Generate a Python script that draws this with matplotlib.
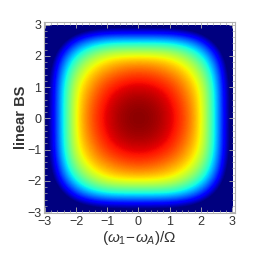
import matplotlib
matplotlib.use('Agg')
import matplotlib.pyplot as plt
import numpy as np
from matplotlib.ticker import MultipleLocator

plt.rcParams['font.family'] = ['Liberation Sans', 'DejaVu Sans']
plt.rcParams['mathtext.fontset'] = 'custom'
plt.rcParams['mathtext.rm'] = 'Liberation Sans'
plt.rcParams['mathtext.it'] = 'Liberation Sans:italic'

# sample grid (both axes), step 0.5
coords = [-3.0, -2.5, -2.0, -1.5, -1.0, -0.5, 0.0, 0.5, 1.0, 1.5, 2.0, 2.5, 3.0]

# values for one quadrant, rows/cols at 0, 0.5, ..., 3
quad_vals = [
    [1.00, 0.98, 0.93, 0.83, 0.66, 0.31, -0.12],
    [0.98, 0.966, 0.914, 0.81, 0.655, 0.31, -0.125],
    [0.93, 0.914, 0.865, 0.76, 0.63, 0.30, -0.125],
    [0.83, 0.81, 0.76, 0.69, 0.54, 0.25, -0.15],
    [0.66, 0.655, 0.63, 0.54, 0.39, 0.14, -0.20],
    [0.31, 0.31, 0.30, 0.25, 0.14, -0.075, -0.33],
    [-0.12, -0.125, -0.125, -0.15, -0.20, -0.33, -0.45],
]

xlabel = r'$(\omega_1\!-\!\omega_A)/\Omega$'
ylabel = 'linear BS'
tick_labels = ['\u22123', '\u22122', '\u22121', '0', '1', '2', '3']

q = np.array(quad_vals)
half = np.vstack([q[:0:-1], q])          # rows -3..3
grid = np.hstack([half[:, :0:-1], half])  # cols -3..3

fig = plt.figure(figsize=(2.58, 2.58), dpi=100)
ax = fig.add_axes([0.1705, 0.1744, 0.742, 0.740])

step = coords[1] - coords[0]
ext = [coords[0] - step / 2, coords[-1] + step / 2,
       coords[0] - step / 2, coords[-1] + step / 2]
im = ax.imshow(grid, cmap='jet', vmin=0, vmax=1, origin='lower',
               extent=ext, interpolation='bicubic', interpolation_stage='data',
               aspect='auto')
im.set_clip_path(plt.Rectangle((-3, -3), 6, 6, transform=ax.transData))

ax.set_xlim(-3.03, 3.11)
ax.set_ylim(-3.03, 3.08)

ax.xaxis.set_minor_locator(MultipleLocator(0.2))
ax.yaxis.set_minor_locator(MultipleLocator(0.2))
ax.tick_params(which='both', direction='in', top=True, right=True,
               color='#b0b0b0', labelsize=9, labelcolor='#333333', pad=2)
ax.tick_params(which='major', length=4, width=0.6)
ax.tick_params(which='minor', length=2, width=0.5)
ax.set_xticks(range(-3, 4))
ax.set_xticklabels(tick_labels)
ax.set_yticks(range(-3, 4))
ax.set_yticklabels(tick_labels)
for s in ax.spines.values():
    s.set_color('#b0b0b0')
    s.set_linewidth(0.8)

ax.set_xlabel(xlabel, fontsize=11, color='#333333')
ax.set_ylabel(ylabel, fontsize=10.5, fontweight='bold', color='#333333')
ax.xaxis.set_label_coords(0.5, -0.085)
ax.yaxis.set_label_coords(-0.085, 0.5)

fig.savefig('out.png', dpi=100)
